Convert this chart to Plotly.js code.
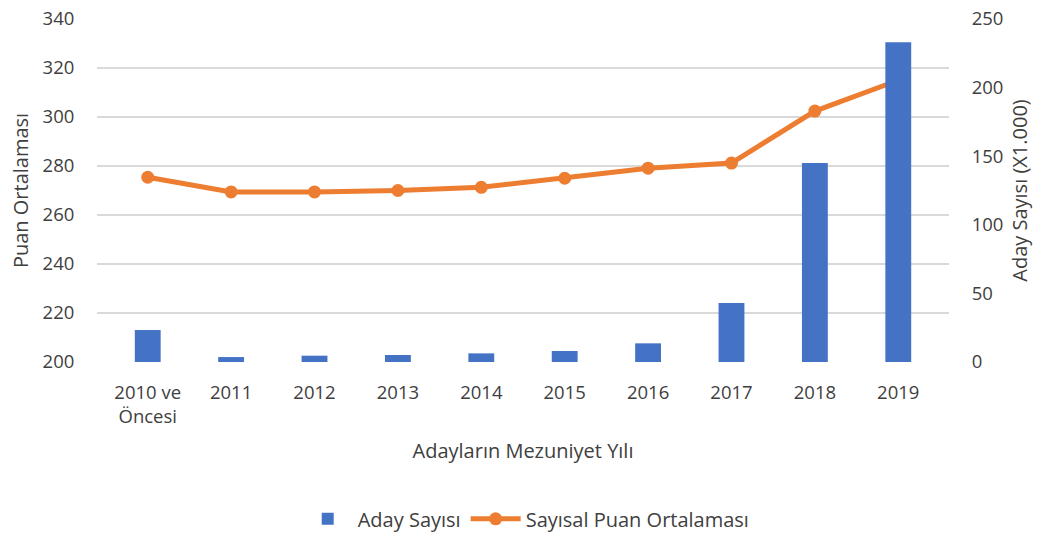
<!DOCTYPE html>
<html><head><meta charset="utf-8">
<script src="https://cdn.plot.ly/plotly-3.0.1.min.js"></script>
<style>html,body{margin:0;padding:0;background:#fff}</style>
</head><body>
<div id="chart" style="width:1042px;height:536px"></div>
<script>
const categories = ["2010 ve<br>Öncesi","2011","2012","2013","2014","2015","2016","2017","2018","2019"];
const adaySayisi = [23.3, 3.6, 4.6, 5.1, 6.3, 8.0, 13.6, 43, 145, 233];
const puanOrtalamasi = [275.4, 269.4, 269.4, 270.0, 271.3, 275.0, 279.1, 281.2, 302.4, 315.0];
const leftTicks = [200,220,240,260,280,300,320,340];
const rightTicks = [0,50,100,150,200,250];

const fam = "'Open Sans', 'Noto Sans', sans-serif";
const tickFont = {family: fam, size: 18.5, color: "#404040"};
const titleFont = {family: fam, size: 20, color: "#404040"};

const traces = [
  {type: "bar", name: "Aday Sayısı", x: categories, y: adaySayisi, yaxis: "y2",
   marker: {color: "#4472C4"}},
  {type: "scatter", mode: "lines+markers", name: "Sayısal Puan Ortalaması", x: categories, y: puanOrtalamasi,
   yaxis: "y", line: {color: "#ED7D31", width: 5}, marker: {color: "#ED7D31", size: 13}}
];

const layout = {
  width: 1042, height: 536,
  margin: {l: 97, r: 93, t: 19, b: 174},
  paper_bgcolor: "#fff", plot_bgcolor: "#fff",
  font: tickFont,
  bargap: 0.69,
  showlegend: true,
  legend: {orientation: "h", x: 0.505, xref: "container", xanchor: "center",
    y: 0.032, yref: "container", yanchor: "middle", itemwidth: 50,
    font: titleFont, traceorder: "normal"},
  xaxis: {type: "category", showgrid: false, zeroline: false, showline: false, automargin: false,
    ticks: "outside", ticklen: 14, tickcolor: "rgba(0,0,0,0)", tickfont: tickFont,
    title: {text: "Adayların Mezuniyet Yılı", font: titleFont, standoff: 16}},
  yaxis: {range: [200, 340], tickvals: leftTicks, showgrid: true, gridcolor: "#d9d9d9", gridwidth: 1.5,
    zeroline: false, showline: false, automargin: false,
    ticks: "outside", ticklen: 18, tickcolor: "rgba(0,0,0,0)", tickfont: tickFont,
    title: {text: "Puan Ortalaması", font: titleFont, standoff: 8}},
  yaxis2: {range: [0, 250], tickvals: rightTicks, overlaying: "y", side: "right", showgrid: false,
    zeroline: false, showline: false, automargin: false,
    ticks: "outside", ticklen: 18, tickcolor: "rgba(0,0,0,0)", tickfont: tickFont,
    title: {text: "Aday Sayısı (X1.000)", font: titleFont, standoff: 10}}
};

Plotly.newPlot("chart", traces, layout, {displayModeBar: false, responsive: false});
</script>
</body></html>
